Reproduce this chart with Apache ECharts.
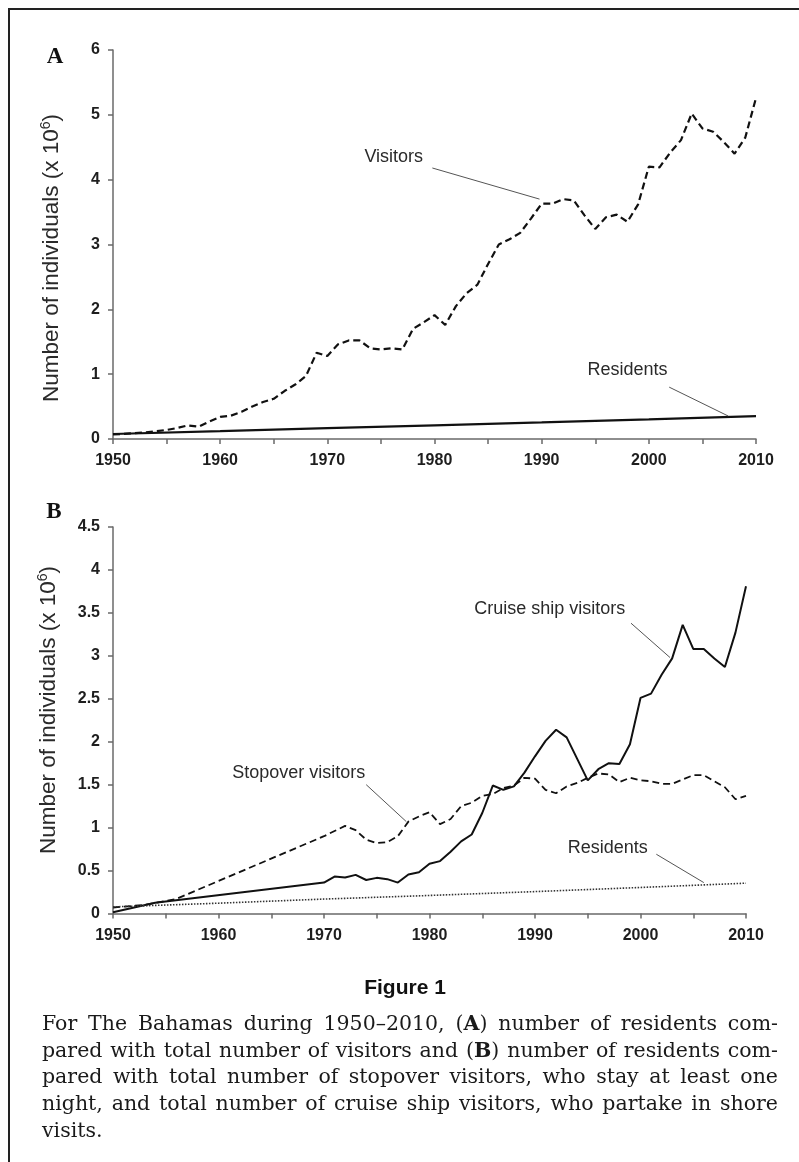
<!DOCTYPE html>
<html>
<head>
<meta charset="utf-8">
<script src="https://cdn.jsdelivr.net/npm/echarts@6/dist/echarts.min.js"></script>
<style>
html, body { margin: 0; padding: 0; background: #fff; }
#wrap { position: relative; width: 799px; height: 1162px; overflow: hidden; }
#chart { position: absolute; left: 0; top: 0; width: 799px; height: 1162px; }
#caption { position: absolute; left: 42px; top: 1010px; width: 736px;
  font-family: 'DejaVu Serif', serif; font-size: 20.5px; line-height: 26.7px; color: #1a1a1a; }
#caption .j { text-align: justify; text-align-last: justify; }
#caption .l { text-align: left; }
</style>
</head>
<body>
<div id="wrap">
  <div id="chart"></div>
  <div id="caption">
    <div class="j">For The Bahamas during 1950–2010, (<b>A</b>) number of residents com-</div>
    <div class="j">pared with total number of visitors and (<b>B</b>) number of residents com-</div>
    <div class="j">pared with total number of stopover visitors, who stay at least one</div>
    <div class="j">night, and total number of cruise ship visitors, who partake in shore</div>
    <div class="l">visits.</div>
  </div>
</div>
<script>
// ---------- DATA ----------
const yearsA = [1950,1951,1952,1953,1954,1955,1956,1957,1958,1959,
  1960,1961,1962,1963,1964,1965,1966,1967,1968,1969,
  1970,1971,1972,1973,1974,1975,1976,1977,1978,1979,
  1980,1981,1982,1983,1984,1985,1986,1987,1988,1989,
  1990,1991,1992,1993,1994,1995,1996,1997,1998,1999,
  2000,2001,2002,2003,2004,2005,2006,2007,2008,2009,2010];
const visitorsA = [0.07,0.08,0.09,0.10,0.12,0.14,0.17,0.21,0.19,0.27,
  0.34,0.36,0.42,0.50,0.57,0.62,0.74,0.84,0.97,1.33,
  1.28,1.46,1.52,1.52,1.40,1.38,1.40,1.38,1.70,1.80,
  1.91,1.76,2.05,2.25,2.38,2.70,3.00,3.08,3.18,3.40,
  3.63,3.63,3.70,3.68,3.45,3.24,3.42,3.46,3.35,3.62,
  4.20,4.19,4.42,4.61,5.02,4.79,4.74,4.58,4.40,4.65,5.26];

const residentYears = [1950,1960,1970,1980,1990,2000,2010];
const residents = [0.077,0.12,0.168,0.21,0.255,0.303,0.353];

const stopoverYears = [1950,1953,1956,1970,1971,1972,1973,1974,1975,1976,1977,1978,1979,
  1980,1981,1982,1983,1984,1985,1986,1987,1988,1989,
  1990,1991,1992,1993,1994,1995,1996,1997,1998,1999,
  2000,2001,2002,2003,2004,2005,2006,2007,2008,2009,2010];
const stopover = [0.07,0.10,0.17,0.90,0.96,1.02,0.97,0.86,0.82,0.83,0.90,1.07,1.13,
  1.18,1.04,1.10,1.25,1.29,1.37,1.39,1.46,1.49,1.58,
  1.57,1.44,1.40,1.48,1.52,1.58,1.63,1.62,1.53,1.58,
  1.55,1.54,1.51,1.51,1.56,1.61,1.61,1.54,1.47,1.33,1.37];

const cruiseYears = [1950,1954,1970,1971,1972,1973,1974,1975,1976,1977,1978,1979,
  1980,1981,1982,1983,1984,1985,1986,1987,1988,1989,
  1990,1991,1992,1993,1994,1995,1996,1997,1998,1999,
  2000,2001,2002,2003,2004,2005,2006,2007,2008,2009,2010];
const cruise = [0.015,0.125,0.36,0.43,0.42,0.45,0.39,0.415,0.40,0.36,0.455,0.48,
  0.58,0.61,0.72,0.84,0.92,1.17,1.49,1.44,1.48,1.64,
  1.83,2.01,2.14,2.05,1.80,1.55,1.68,1.75,1.74,1.97,
  2.51,2.56,2.78,2.97,3.36,3.08,3.08,2.97,2.87,3.27,3.81];

const xTicks = [1950,1960,1970,1980,1990,2000,2010];
const yTicksA = [0,1,2,3,4,5,6];
const yTicksB = [0,0.5,1,1.5,2,2.5,3,3.5,4,4.5];

const yName = 'Number of individuals (x 10{sup|6})';

// ---------- BUILD ----------
function zip(xs, ys) { return xs.map((x, i) => [x, ys[i]]); }

const sans = "'Liberation Sans', Arial, Helvetica, sans-serif";
const axisColor = '#6a6a6a';
const tickLabel = { fontFamily: sans, fontSize: 16, fontWeight: 'bold', color: '#1e1e1e' };

function xAxisFor(gridIndex) {
  return {
    type: 'value', gridIndex, min: xTicks[0], max: xTicks[xTicks.length - 1], interval: 5,
    axisLine: { show: true, onZero: false, lineStyle: { color: axisColor, width: 1.5 } },
    axisTick: { show: true, inside: false, length: 5, lineStyle: { color: axisColor, width: 1.5 } },
    splitLine: { show: false },
    axisLabel: Object.assign({ margin: 14, formatter: v => (xTicks.indexOf(v) >= 0 ? String(v) : '') }, tickLabel)
  };
}
function yAxisFor(gridIndex, ticks) {
  return {
    type: 'value', gridIndex, min: ticks[0], max: ticks[ticks.length - 1], interval: ticks[1] - ticks[0],
    axisLine: { show: true, onZero: false, lineStyle: { color: axisColor, width: 1.5 } },
    axisTick: { show: true, inside: false, length: 5, lineStyle: { color: axisColor, width: 1.5 } },
    splitLine: { show: false },
    axisLabel: Object.assign({ margin: 13, formatter: v => String(v) }, tickLabel)
  };
}

const noteText = { fontFamily: sans, fontSize: 18, color: '#2a2a2a' };
const leaderStyle = { color: '#555', width: 1, type: 'solid' };

function note(text, at, from, to) {
  return {
    markPoint: {
      silent: true, symbol: 'circle', symbolSize: 0,
      label: Object.assign({ show: true, position: 'inside', formatter: text }, noteText),
      data: [{ coord: at }]
    },
    markLine: {
      silent: true, symbol: 'none', animation: false,
      lineStyle: leaderStyle, label: { show: false },
      data: [[{ coord: from }, { coord: to }]]
    }
  };
}

const chart = echarts.init(document.getElementById('chart'), null, { renderer: 'canvas' });

const option = {
  animation: false,
  backgroundColor: '#fff',
  grid: [
    { left: 113, top: 50, width: 643, height: 389 },
    { left: 113, top: 527, width: 633, height: 386.5 }
  ],
  xAxis: [xAxisFor(0), xAxisFor(1)],
  yAxis: [yAxisFor(0, yTicksA), yAxisFor(1, yTicksB)],
  series: [
    Object.assign({
      name: 'Visitors', type: 'line', xAxisIndex: 0, yAxisIndex: 0,
      data: zip(yearsA, visitorsA), showSymbol: false, symbol: 'none',
      lineStyle: { color: '#111', width: 2.2, type: [7, 4] }
    }, note('Visitors', [1976.2, 4.35], [1979.8, 4.18], [1989.8, 3.70])),
    Object.assign({
      name: 'Residents', type: 'line', xAxisIndex: 0, yAxisIndex: 0,
      data: zip(residentYears, residents), showSymbol: false, symbol: 'none',
      lineStyle: { color: '#111', width: 2.2 }
    }, note('Residents', [1998.0, 1.065], [2001.9, 0.80], [2007.4, 0.355])),
    Object.assign({
      name: 'Stopover visitors', type: 'line', xAxisIndex: 1, yAxisIndex: 1,
      data: zip(stopoverYears, stopover), showSymbol: false, symbol: 'none',
      lineStyle: { color: '#111', width: 1.8, type: [7, 4] }
    }, note('Stopover visitors', [1967.6, 1.63], [1974.0, 1.50], [1977.8, 1.07])),
    Object.assign({
      name: 'Cruise ship visitors', type: 'line', xAxisIndex: 1, yAxisIndex: 1,
      data: zip(cruiseYears, cruise), showSymbol: false, symbol: 'none',
      lineStyle: { color: '#111', width: 2 }
    }, note('Cruise ship visitors', [1991.4, 3.54], [1999.1, 3.38], [2002.8, 2.98])),
    Object.assign({
      name: 'Residents B', type: 'line', xAxisIndex: 1, yAxisIndex: 1,
      data: zip(residentYears, residents), showSymbol: false, symbol: 'none',
      lineStyle: { color: '#333', width: 1.6, type: [1.5, 1.5] }
    }, note('Residents', [1996.9, 0.76], [2001.5, 0.69], [2006.0, 0.36]))
  ],
  graphic: [
    { type: 'line', silent: true, shape: { x1: 8, y1: 9, x2: 799, y2: 9 }, style: { stroke: '#222', lineWidth: 2 } },
    { type: 'line', silent: true, shape: { x1: 9, y1: 8, x2: 9, y2: 1162 }, style: { stroke: '#222', lineWidth: 2 } },
    { type: 'text', silent: true, x: 55, y: 57, style: { text: 'A', align: 'center', verticalAlign: 'middle',
      fontFamily: "'Liberation Serif', 'Times New Roman', serif", fontWeight: 'bold', fontSize: 23, fill: '#111' } },
    { type: 'text', silent: true, x: 54, y: 512, style: { text: 'B', align: 'center', verticalAlign: 'middle',
      fontFamily: "'Liberation Serif', 'Times New Roman', serif", fontWeight: 'bold', fontSize: 23, fill: '#111' } },
    { type: 'text', silent: true, x: 52, y: 258, rotation: Math.PI / 2,
      style: { text: yName, align: 'center', verticalAlign: 'middle', fontFamily: sans, fontSize: 22.5, fill: '#2a2a2a',
        lineHeight: 25, rich: { sup: { fontFamily: sans, fontSize: 14, lineHeight: 14, verticalAlign: 'top', fill: '#2a2a2a' } } } },
    { type: 'text', silent: true, x: 49, y: 710, rotation: Math.PI / 2,
      style: { text: yName, align: 'center', verticalAlign: 'middle', fontFamily: sans, fontSize: 22.5, fill: '#2a2a2a',
        lineHeight: 25, rich: { sup: { fontFamily: sans, fontSize: 14, lineHeight: 14, verticalAlign: 'top', fill: '#2a2a2a' } } } },
    { type: 'text', silent: true, x: 405, y: 988, style: { text: 'Figure 1', align: 'center', verticalAlign: 'middle',
      fontFamily: sans, fontWeight: 'bold', fontSize: 21, fill: '#111' } }
  ]
};
chart.setOption(option);
</script>
</body>
</html>
